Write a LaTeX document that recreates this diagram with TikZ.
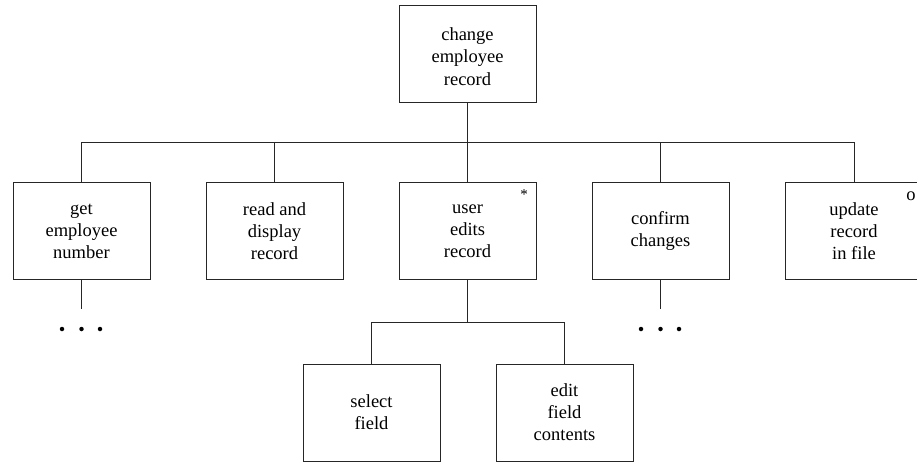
\documentclass[tikz,border=0pt]{standalone}
\usepackage{fontspec}
\setmainfont{Liberation Serif}
\begin{document}
\begin{tikzpicture}[x=1pt,y=-1pt,
  box/.style={draw=black!85,line width=0.9pt,minimum width=137pt,minimum height=97pt,
    inner sep=0pt,align=center,font=\fontsize{18.5}{22}\selectfont},
  conn/.style={draw=black!85,line width=0.9pt},
  dot/.style={circle,fill=black,inner sep=0pt,minimum size=4.5pt},
  tag/.style={font=\fontsize{18.5}{22}\selectfont,inner sep=0pt}]
\useasboundingbox (0,0) rectangle (917,463);
\begin{scope}
\clip (0,0) rectangle (917,463);
\node[box] (top) at (467.5,53.5) {};
\node[align=center,font=\fontsize{18.5}{22.5}\selectfont,inner sep=0pt] (toptext) at (top.center) [yshift=-3pt] {change\\employee\\record};
\node[box] (get) at (81.5,231) {get\\employee\\number};
\node[box] (read) at (274.5,231) {read and\\display\\record};
\node[box] (user) at (467.5,231) {user\\edits\\record};
\node[box] (conf) at (660.5,231) {confirm\\changes};
\node[box] (upd) at (854,231) {update\\record\\in file};
\node[box] (sel) at (371.5,412.5) {select\\field};
\node[box] (edit) at (564.5,412.5) {edit\\field\\contents};
\end{scope}
\node[tag,font=\fontsize{15}{18}\selectfont] (star) at (524,195) {*};
\node[tag] (omark) at (911,196) {o};
% connectors
\coordinate (h1) at (0,142);
\draw[conn] (top.south) -- (top.south |- h1);
\draw[conn] (get.north) -- (get.north |- h1) -- (upd.north |- h1) -- (upd.north);
\draw[conn] (read.north) -- (read.north |- h1);
\draw[conn] (user.north) -- (user.north |- h1);
\draw[conn] (conf.north) -- (conf.north |- h1);
\coordinate (h2) at (0,322);
\draw[conn] (user.south) -- (user.south |- h2);
\draw[conn] (sel.north) -- (sel.north |- h2) -- (edit.north |- h2) -- (edit.north);
\draw[conn] (get.south) -- ++(0,29) coordinate (ge);
\draw[conn] (conf.south) -- ++(0,29) coordinate (ce);
\node[dot] (gd1) at (62,329) {};
\node[dot] (gd2) at (81.5,329) {};
\node[dot] (gd3) at (100,329) {};
\node[dot] (cd1) at (641,329) {};
\node[dot] (cd2) at (660.5,329) {};
\node[dot] (cd3) at (679,329) {};
\end{tikzpicture}
\end{document}
